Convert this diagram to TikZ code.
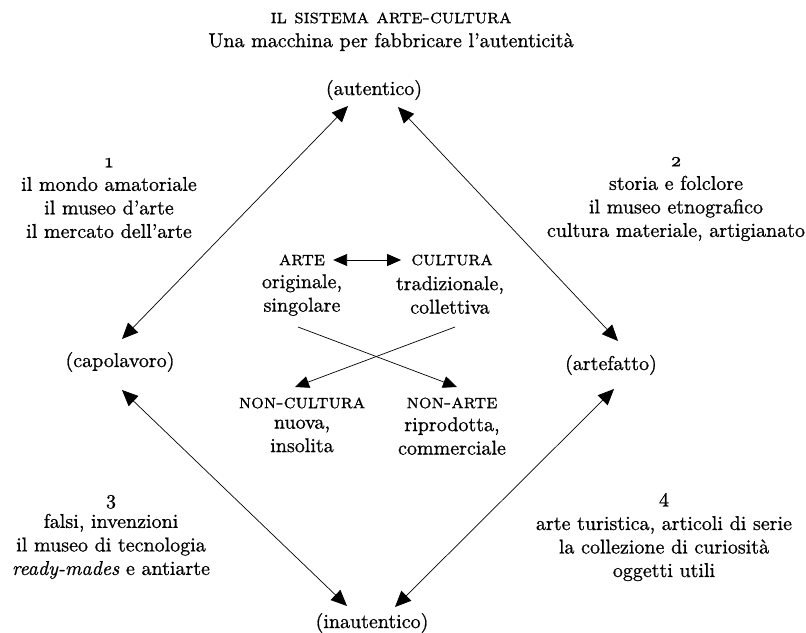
\documentclass[tikz,border=0pt]{standalone}
\usepackage{fontspec}
\setmainfont{lmroman10-regular.otf}[
  FakeBold=0.8,
  ItalicFont=lmroman10-italic.otf,
  ItalicFeatures={FakeBold=0.8},
  SmallCapsFont=lmromancaps10-regular.otf,
  SmallCapsFeatures={FakeBold=0.8}]
\usetikzlibrary{arrows.meta}

\tikzset{
  txt/.style={inner sep=0pt, align=center, font=\fontsize{20}{23.5}\selectfont},
  bigtip/.tip={Triangle[length=16pt,width=14pt]},
  smalltip/.tip={Triangle[length=14pt,width=12pt]},
  axis/.style={line width=0.7pt, bigtip-bigtip},
  pair/.style={line width=0.9pt, smalltip-smalltip},
  cross/.style={line width=0.7pt, -smalltip},
}

\begin{document}
\begin{tikzpicture}[x=1pt,y=-1pt]
\useasboundingbox (0,0) rectangle (806,632);

% title
\node[txt] (title) at (391,18) {\textsc{il sistema arte-cultura}};
\node[txt] (sub)   at (391,42) {Una macchina per fabbricare l’autenticità};

% the four poles
\node[txt] (aut)   at (374,90)  {(autentico)};
\node[txt] (cap)   at (120,362) {(capolavoro)};
\node[txt] (art)   at (611,365) {(artefatto)};
\node[txt] (inaut) at (372,623) {(inautentico)};

% arrow ends next to the poles
\coordinate (autL) at (348,106);
\coordinate (autR) at (398,107);
\coordinate (capU) at (122,339);
\coordinate (capD) at (122,390);
\coordinate (artU) at (618,341);
\coordinate (artD) at (614,389);
\coordinate (inL)  at (347,606);
\coordinate (inR)  at (395,607);

\draw[axis] (autL) -- (capU);
\draw[axis] (autR) -- (artU);
\draw[axis] (capD) -- (inL);
\draw[axis] (artD) -- (inR);

% the four zones
\node[txt] (z1) at (109,198) {\oldstylenums{1}\\il mondo amatoriale\\il museo d’arte\\il mercato dell’arte};
\node[txt] (z2) at (676,199) {\oldstylenums{2}\\storia e folclore\\il museo etnografico\\cultura materiale, artigianato};
\node[txt] (z3) at (111,537) {\oldstylenums{3}\\falsi, invenzioni\\il museo di tecnologia\\\textit{ready-mades} e antiarte};
\node[txt] (z4) at (664,537) {4\\arte turistica, articoli di serie\\la collezione di curiosità\\oggetti utili};

% central square of oppositions
\node[txt] (arte)  at (302,260) {\textsc{arte}};
\node[txt] (cult)  at (452,260) {\textsc{cultura}};
\node[txt] (arteW) at (302,295) {originale,\\singolare};
\node[txt] (cultW) at (450,295) {tradizionale,\\collettiva};
\node[txt] (nonc)  at (302,403) {\textsc{non-cultura}};
\node[txt] (nona)  at (452,403) {\textsc{non-arte}};
\node[txt] (noncW) at (302,436) {nuova,\\insolita};
\node[txt] (nonaW) at (452,436) {riprodotta,\\commerciale};

\draw[pair] ([xshift=8pt]arte.east) -- ([xshift=-10pt]cult.west);

\coordinate (c1s) at (298,327);
\coordinate (c1e) at (457,387);
\coordinate (c2s) at (455,327);
\coordinate (c2e) at (295,387);
\draw[cross] (c1s) -- (c1e);
\draw[cross] (c2s) -- (c2e);
\end{tikzpicture}
\end{document}
